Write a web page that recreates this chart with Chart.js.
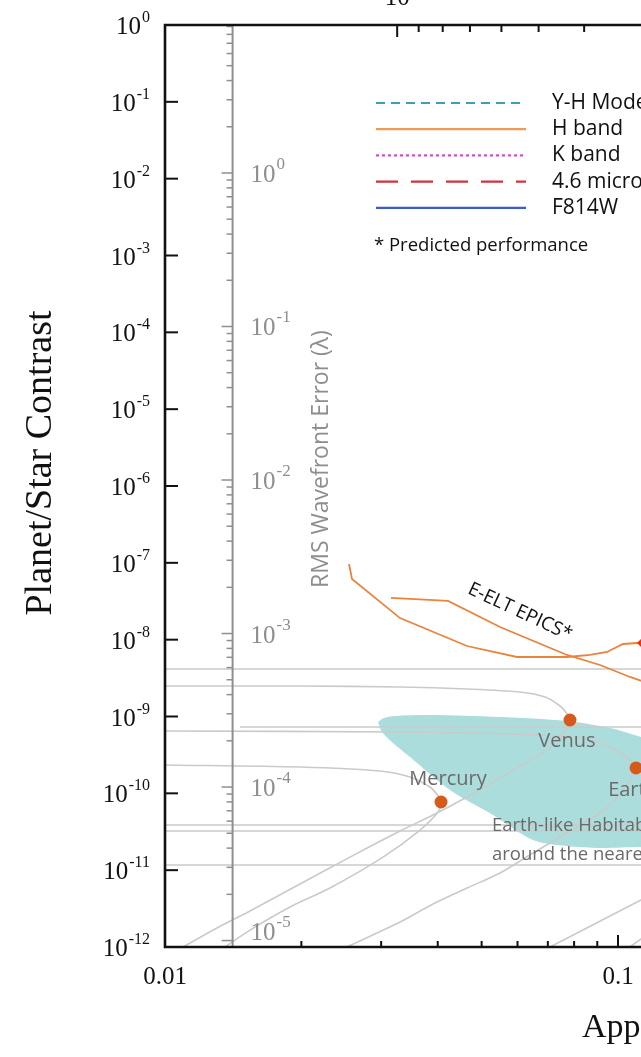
<!DOCTYPE html>
<html>
<head>
<meta charset="utf-8">
<script src="https://cdn.jsdelivr.net/npm/chart.js@4.4.0/dist/chart.umd.min.js"></script>
<style>
  html, body { margin: 0; padding: 0; background: #fff; overflow: hidden; }
  #wrap { position: relative; width: 641px; height: 1057px; overflow: hidden; background: #fff; }
  #wrap canvas { position: absolute; left: 0; top: 0; }
</style>
</head>
<body>
<div id="wrap"><canvas id="chart" width="1100" height="1057"></canvas></div>
<script>
// ---- axes ----
const contrastExponents = [0, -1, -2, -3, -4, -5, -6, -7, -8, -9, -10, -11, -12];
const wfeExponents = [1, 0, -1, -2, -3, -4, -5];
const wfeLabelExponents = [0, -1, -2, -3, -4, -5];
const sepTicks = [0.01, 0.02, 0.03, 0.04, 0.05, 0.06, 0.07, 0.08, 0.09, 0.1, 0.2, 0.3, 0.4, 0.5, 0.6, 0.7, 0.8, 0.9, 1];
const sepMajor = [0.01, 0.1, 1];
const sepLabels = ['0.01', '0.1', '1'];
const topTicks = [10, 9, 8, 7, 6, 5, 4, 3, 2, 1];
const topMajor = [10, 1];
const topLabels = ['10', '1'];
const wfeAxisAt = 0.0141;

// ---- E-ELT EPICS predicted contrast curves ----
const epicsA_sep = [0.02548, 0.02587, 0.03302, 0.04642, 0.05984, 0.07717, 0.08675, 0.09456, 0.1026, 0.1101, 0.1147];
const epicsA_con = [9.66e-8, 6.16e-8, 1.91e-8, 8.27e-9, 5.95e-9, 5.95e-9, 6.32e-9, 6.91e-9, 8.78e-9, 9.05e-9, 9.05e-9];
const epicsB_sep = [0.03154, 0.04214, 0.05490, 0.07717, 0.09127, 0.1063, 0.1147];
const epicsB_con = [3.49e-8, 3.19e-8, 1.46e-8, 6.32e-9, 4.68e-9, 3.27e-9, 2.81e-9];
const markerSep = [0.1147];
const markerCon = [9.05e-9];

// ---- Solar System planets ----
const planetNames = ['Mercury', 'Venus', 'Earth'];
const planetSep = [0.04067, 0.07834, 0.1096];
const planetCon = [7.71e-11, 9.0e-10, 2.14e-10];

// ---- planet tracks ----
const venusSep = [0.01, 0.01986, 0.03302, 0.04642, 0.06077, 0.06902, 0.07447, 0.07717, 0.07834, 0.07757, 0.07447, 0.06970, 0.06077, 0.05490, 0.04642, 0.03905, 0.03302, 0.02561, 0.01986, 0.01540, 0.01302, 0.01096];
const venusCon = [2.49e-9, 2.49e-9, 2.42e-9, 2.28e-9, 2.08e-9, 1.79e-9, 1.37e-9, 1.08e-9, 9.0e-10, 7.30e-10, 5.41e-10, 3.66e-10, 2.27e-10, 1.58e-10, 8.96e-11, 5.22e-11, 3.23e-11, 1.48e-11, 6.60e-12, 2.94e-12, 1.77e-12, 1.0e-12];
const earthSep = [0.01, 0.03302, 0.06726, 0.08675, 0.09849, 0.1063, 0.1096, 0.1074, 0.09849, 0.09127, 0.07717, 0.06492, 0.05490, 0.04642, 0.03905, 0.03302, 0.02522];
const earthCon = [6.47e-10, 6.28e-10, 5.74e-10, 4.94e-10, 3.66e-10, 2.71e-10, 2.14e-10, 1.63e-10, 8.19e-11, 5.55e-11, 3.05e-11, 1.67e-11, 9.19e-12, 5.86e-12, 3.63e-12, 2.11e-12, 1.0e-12];
const mercurySep = [0.01, 0.01986, 0.02983, 0.03474, 0.03846, 0.04026, 0.04067, 0.04005, 0.03656, 0.03029, 0.02313, 0.01888, 0.01540, 0.01357];
const mercuryCon = [2.34e-10, 2.20e-10, 1.95e-10, 1.63e-10, 1.21e-10, 8.96e-11, 7.71e-11, 5.71e-11, 3.33e-11, 1.48e-11, 5.86e-12, 3.32e-12, 1.66e-12, 1.0e-12];
const flatLevels = [4.15e-9, 7.30e-10, 3.87e-11, 3.23e-11, 1.17e-11];
const flatStart = [0.01, 0.01464, 0.01, 0.01, 0.01];
const flatEnd = 0.2;
const diagA_sep = [0.07078, 0.1124, 0.1238];
const diagA_con = [1.0e-12, 4.09e-12, 5.52e-12];
const diagB_sep = [0.1063, 0.1238];
const diagB_con = [1.0e-12, 1.93e-12];

// ---- habitable zone region ----
const hzUpperSep = [0.02953, 0.03043, 0.03219, 0.03846, 0.0549, 0.07717, 0.09601, 0.1124, 0.1371];
const hzUpperCon = [8.48e-10, 9.56e-10, 1.015e-9, 1.046e-9, 9.85e-10, 8.74e-10, 7.08e-10, 5.41e-10, 3.66e-10];
const hzLowerSep = [0.02953, 0.03013, 0.03186, 0.03474, 0.04257, 0.05298, 0.06492, 0.07717, 0.09127, 0.1124, 0.1371];
const hzLowerCon = [8.48e-10, 6.28e-10, 4.52e-10, 2.97e-10, 1.105e-10, 5.22e-11, 2.47e-11, 2.06e-11, 1.94e-11, 2.00e-11, 1.94e-11];

// ---- legend ----
const legendLabels = ['Y-H Mode', 'H band', 'K band', '4.6 micron', 'F814W'];
const legendColors = ['#3c9fb4', '#ef9a55', '#e23ee0', '#d0323e', '#3a5cd0'];
const legendDashes = [[9, 6], [], [3, 3], [22, 13], []];
const legendNote = '* Predicted performance';

const pts = (xs, ys) => xs.map((x, i) => ({ x, y: ys[i] }));
const GRAY = '#cacaca';
const ORANGE = '#e9843f';

const datasets = [
  { label: 'hz-upper', data: pts(hzUpperSep, hzUpperCon), borderWidth: 0, pointRadius: 0, tension: 0.3, fill: false, order: 20 },
  { label: 'Earth-like habitable zone', data: pts(hzLowerSep, hzLowerCon), borderWidth: 0, pointRadius: 0, tension: 0.3,
    fill: 0, backgroundColor: '#acdddd', order: 19 },
  { label: 'Venus track', data: pts(venusSep, venusCon), borderColor: GRAY, borderWidth: 1.6, pointRadius: 0, tension: 0.3, order: 10 },
  { label: 'Earth track', data: pts(earthSep, earthCon), borderColor: GRAY, borderWidth: 1.6, pointRadius: 0, tension: 0.3, order: 10 },
  { label: 'Mercury track', data: pts(mercurySep, mercuryCon), borderColor: GRAY, borderWidth: 1.6, pointRadius: 0, tension: 0.3, order: 10 },
  ...flatLevels.map((c, i) => ({ label: 'track ' + i, data: pts([flatStart[i], flatEnd], [c, c]), borderColor: GRAY, borderWidth: 1.6, pointRadius: 0, order: 10 })),
  { label: 'track a', data: pts(diagA_sep, diagA_con), borderColor: GRAY, borderWidth: 1.6, pointRadius: 0, tension: 0.2, order: 10 },
  { label: 'track b', data: pts(diagB_sep, diagB_con), borderColor: GRAY, borderWidth: 1.6, pointRadius: 0, order: 10 },
  { label: 'E-ELT EPICS', data: pts(epicsA_sep, epicsA_con), borderColor: ORANGE, borderWidth: 1.8, pointRadius: 0, tension: 0, order: 5 },
  { label: 'E-ELT EPICS 2', data: pts(epicsB_sep, epicsB_con), borderColor: ORANGE, borderWidth: 1.8, pointRadius: 0, tension: 0, order: 5 },
  { label: 'marker', data: pts(markerSep, markerCon), showLine: false, pointStyle: 'rectRot', pointRadius: 8, backgroundColor: '#ff2a0a', borderWidth: 0, order: 2 },
  { label: 'planets', data: pts(planetSep, planetCon), showLine: false, pointRadius: 6.5, backgroundColor: '#d65b1b', borderWidth: 0, order: 1 }
];

function line(ctx, x1, y1, x2, y2) { ctx.beginPath(); ctx.moveTo(x1, y1); ctx.lineTo(x2, y2); ctx.stroke(); }

function power(ctx, exp, x, y, align, baseSize, supSize, color, dyBase, dySup) {
  const base = '10', sup = String(exp);
  ctx.font = baseSize + 'px "Liberation Serif"';
  const wb = ctx.measureText(base).width;
  ctx.font = supSize + 'px "Liberation Serif"';
  const ws = ctx.measureText(sup).width;
  const x0 = align === 'right' ? x - wb - ws - 1 : x;
  ctx.fillStyle = color; ctx.textAlign = 'left'; ctx.textBaseline = 'alphabetic';
  ctx.font = baseSize + 'px "Liberation Serif"';
  ctx.fillText(base, x0, y + dyBase);
  ctx.font = supSize + 'px "Liberation Serif"';
  ctx.fillText(sup, x0 + wb + 1, y + dySup);
}

const overlay = {
  id: 'overlay',
  afterDraw(chart) {
    const { ctx, chartArea: a, scales } = chart;
    const xs = scales.x, ys = scales.y, ws = scales.wfe, ts = scales.top;
    ctx.save();

    // RMS wavefront error axis
    const wx = xs.getPixelForValue(wfeAxisAt);
    ctx.strokeStyle = '#8e8e8e'; ctx.lineWidth = 2;
    line(ctx, wx, a.top, wx, a.bottom);
    ctx.lineWidth = 1.5;
    wfeExponents.forEach(e => {
      for (let k = 1; k <= 9; k++) {
        const v = k * Math.pow(10, e);
        if (v < ws.min || v > ws.max) continue;
        const y = ws.getPixelForValue(v);
        line(ctx, wx, y, wx - (k === 1 ? 11 : 6), y);
      }
    });
    wfeLabelExponents.forEach(e => {
      const lift = e === -5 ? -10 : 0; // keep the lowest label clear of the bottom frame
      power(ctx, e, wx + 18, ws.getPixelForValue(Math.pow(10, e)) + lift, 'left', 25, 17, '#8e8e8e', 9, -4);
    });
    ctx.save();
    ctx.translate(wx + 89, 459);
    ctx.rotate(-Math.PI / 2);
    ctx.fillStyle = '#8e8e8e'; ctx.font = '23px "Open Sans"';
    ctx.textAlign = 'center'; ctx.textBaseline = 'middle';
    ctx.fillText('RMS Wavefront Error (\u03bb)', 0, 0);
    ctx.restore();

    // frame
    ctx.strokeStyle = '#111'; ctx.lineWidth = 2.6; ctx.lineCap = 'square';
    ctx.beginPath();
    ctx.moveTo(a.right, a.top); ctx.lineTo(a.left, a.top); ctx.lineTo(a.left, a.bottom); ctx.lineTo(a.right, a.bottom);
    ctx.stroke();
    ctx.lineCap = 'butt'; ctx.lineWidth = 2;
    contrastExponents.forEach(e => {
      const y = ys.getPixelForValue(Math.pow(10, e));
      if (e !== 0 && e !== -12) line(ctx, a.left, y, a.left + 13, y);
      power(ctx, e, 150, y, 'right', 25, 16, '#111', 9, -3);
    });
    sepTicks.forEach(v => {
      const x = xs.getPixelForValue(v);
      const major = sepMajor.includes(v);
      if (v !== 0.01) line(ctx, x, a.bottom, x, a.bottom - (major ? 12 : 6));
    });
    ctx.fillStyle = '#111'; ctx.font = '25px "Liberation Serif"';
    ctx.textAlign = 'center'; ctx.textBaseline = 'alphabetic';
    sepMajor.forEach((v, i) => ctx.fillText(sepLabels[i], xs.getPixelForValue(v), a.bottom + 37));
    topTicks.forEach(v => {
      const x = ts.getPixelForValue(v);
      line(ctx, x, a.top, x, a.top + (topMajor.includes(v) ? 12 : 7));
    });
    topMajor.forEach((v, i) => ctx.fillText(topLabels[i], ts.getPixelForValue(v), a.top - 20));

    // axis titles
    ctx.font = '34px "Liberation Serif"'; ctx.textAlign = 'left';
    ctx.fillText('Apparent Separation (arcsec)', 582, 1037);
    ctx.save();
    ctx.translate(41, 463);
    ctx.rotate(-Math.PI / 2);
    ctx.font = '38px "Liberation Serif"'; ctx.textAlign = 'center'; ctx.textBaseline = 'middle';
    ctx.fillText('Planet/Star Contrast', 0, 0);
    ctx.restore();

    // legend
    legendLabels.forEach((lab, i) => {
      const y = 103 + i * 26.2;
      ctx.strokeStyle = legendColors[i]; ctx.lineWidth = 2.2; ctx.setLineDash(legendDashes[i]);
      line(ctx, 376, y, 526, y);
      ctx.setLineDash([]);
      ctx.fillStyle = '#111'; ctx.font = '21px "Open Sans"'; ctx.textAlign = 'left'; ctx.textBaseline = 'middle';
      ctx.fillText(lab, 552, y);
    });
    ctx.font = '18.5px "Open Sans"';
    ctx.fillText(legendNote, 374, 246);

    // curve label
    ctx.save();
    ctx.translate(520, 612);
    ctx.rotate(25 * Math.PI / 180);
    ctx.font = '19px "Open Sans"'; ctx.fillStyle = '#111'; ctx.textAlign = 'center'; ctx.textBaseline = 'middle';
    ctx.fillText('E-ELT EPICS*', 0, 0);
    ctx.restore();

    // planet and region labels
    ctx.fillStyle = '#6a6a6a'; ctx.font = '20px "Open Sans"'; ctx.textAlign = 'center'; ctx.textBaseline = 'middle';
    const labelDy = [-23, 21, 22];
    planetNames.forEach((n, i) => {
      ctx.fillText(n, xs.getPixelForValue(planetSep[i]) + (i === 0 ? 7 : -3), ys.getPixelForValue(planetCon[i]) + labelDy[i]);
    });
    ctx.font = '18.5px "Open Sans"'; ctx.textAlign = 'left';
    ctx.fillText('Earth-like Habitable Zone Planets', 492, 826);
    ctx.fillText('around the nearest stars', 492, 855);
    ctx.restore();
  }
};

new Chart(document.getElementById('chart'), {
  type: 'line',
  data: { datasets },
  options: {
    responsive: false,
    animation: false,
    devicePixelRatio: 1,
    layout: { padding: { left: 165, top: 25, right: 29, bottom: 110 } },
    plugins: { legend: { display: false }, tooltip: { enabled: false } },
    scales: {
      x: { type: 'logarithmic', min: 0.01, max: 1, display: false },
      y: { type: 'logarithmic', min: 1e-12, max: 1, display: false },
      wfe: { axis: 'y', type: 'logarithmic', min: Math.pow(10, -5.042), max: Math.pow(10, 0.964), display: false },
      top: { axis: 'x', type: 'logarithmic', position: 'top', reverse: true, min: 0.368, max: 31.2, display: false }
    }
  },
  plugins: [overlay]
});
</script>
</body>
</html>
